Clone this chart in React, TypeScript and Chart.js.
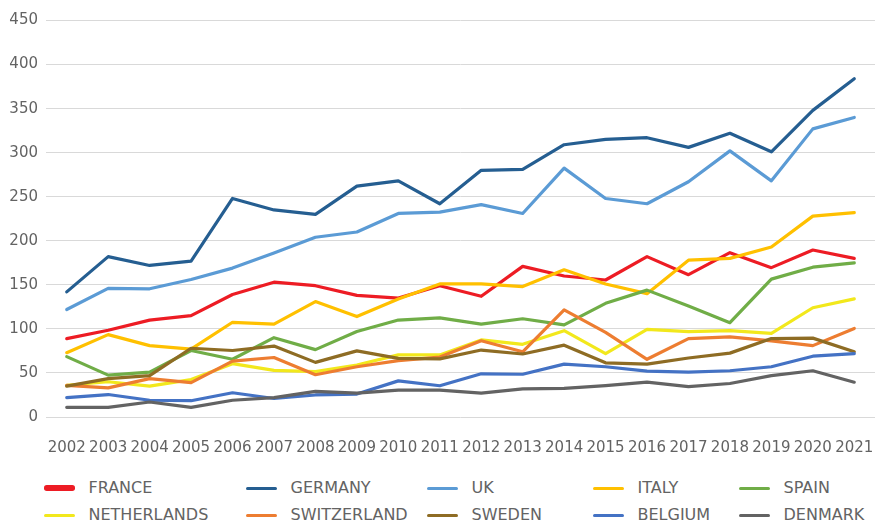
import React, { useEffect, useRef } from "react";
import { Chart, registerables } from "chart.js";

Chart.register(...registerables);

const years = ["2002","2003","2004","2005","2006","2007","2008","2009","2010","2011","2012","2013","2014","2015","2016","2017","2018","2019","2020","2021"];

const france = [89, 98.5, 110, 115, 139, 153, 149, 138, 135, 149, 137, 171, 160, 155.5, 182, 161.5, 186.5, 169.5, 189.5, 180];
const germany = [142, 182, 172, 177, 248, 235, 230, 262, 268, 242, 280, 281, 309, 315, 317, 306, 322, 301, 348, 384];
const uk = [122, 146, 145.5, 156, 169, 186, 204, 210, 231, 232.5, 241, 231, 282.5, 248, 242, 267, 302, 268, 327, 340];
const italy = [73, 93.5, 81, 77, 107.5, 105.5, 131, 114, 134, 151, 151, 148, 167, 151, 140, 178, 180, 193, 228, 232];
const spain = [68.5, 47.5, 51, 75.5, 65.5, 90, 76.5, 97, 110, 112.5, 105.5, 111.5, 104.5, 129, 144, 126, 107, 156.5, 170, 175];
const netherlands = [36, 40, 35, 42.5, 60.5, 53, 51.5, 59, 70.5, 70.5, 87.5, 82.5, 98, 72, 99.5, 97, 98, 95, 124, 134];
const switzerland = [36, 33, 43.5, 39, 63.5, 67.5, 48, 57, 64, 68, 86.5, 74, 121.5, 96, 65.5, 89, 91, 86.5, 81, 100.5];
const sweden = [35, 43.5, 47, 78, 75.5, 80.5, 62, 75, 66.5, 66, 76, 71.5, 81.5, 61.5, 60, 67, 72.5, 89, 89.5, 74];
const belgium = [22, 25.5, 19, 18.5, 27.5, 21, 25, 26, 41, 35.5, 49, 48.5, 60, 57, 52, 51, 52.5, 57, 69, 72];
const denmark = [11, 11, 17, 11, 19, 22, 29, 27, 30.5, 30.5, 27, 32, 32.5, 35.5, 39.5, 34.5, 38, 47, 52.5, 39.5];

const seriesNames = ["FRANCE","GERMANY","UK","ITALY","SPAIN","NETHERLANDS","SWITZERLAND","SWEDEN","BELGIUM","DENMARK"];
const seriesData = [france, germany, uk, italy, spain, netherlands, switzerland, sweden, belgium, denmark];
const seriesColors = ["#ED1C24","#255E91","#5B9BD5","#FFC000","#70AD47","#F2E81C","#ED7D31","#8E6C24","#4472C4","#636363"];

const legendCols = [44, 246, 427, 593, 739];
const legendRows = [488, 515];

const TEXT = "#636363";
const FONT = "'DejaVu Sans', sans-serif";

export default function App() {
  const ref = useRef<HTMLCanvasElement | null>(null);
  useEffect(() => {
    if (!ref.current) return;
    const chart = new Chart(ref.current, {
      type: "line",
      data: {
        labels: years,
        datasets: seriesNames.map((n, i) => ({
          label: n,
          data: seriesData[i],
          borderColor: seriesColors[i],
          backgroundColor: seriesColors[i],
          borderWidth: 3.2,
          pointRadius: 0,
          tension: 0,
          borderJoinStyle: "round" as const,
          borderCapStyle: "round" as const,
          order: 10 - i,
        })),
      },
      options: {
        responsive: false,
        animation: false,
        devicePixelRatio: 1,
        layout: { padding: { top: 20.5, right: 0, bottom: 0, left: 0 } },
        plugins: { legend: { display: false }, tooltip: { enabled: false } },
        scales: {
          x: {
            offset: true,
            grid: { display: false, drawTicks: false },
            border: { display: false },
            ticks: { color: TEXT, font: { family: FONT, size: 15 }, padding: 22, maxRotation: 0, autoSkip: false },
            afterFit: (s: any) => { s.height = 43; s.paddingLeft = 0; s.paddingRight = 0; },
          },
          y: {
            min: 0,
            max: 450,
            grid: { color: "#D9D9D9", lineWidth: 1, drawTicks: false },
            border: { display: false },
            ticks: { stepSize: 50, color: TEXT, font: { family: FONT, size: 15 }, padding: 8 },
            afterFit: (s: any) => { s.width = 46; },
          },
        },
      },
    });
    return () => chart.destroy();
  }, []);

  return (
    <div style={{ position: "fixed", left: 0, top: 0, width: 875, height: 524, background: "#fff", overflow: "hidden" }}>
      <canvas ref={ref} width={875} height={460} style={{ position: "absolute", left: 0, top: 0, width: 875, height: 460 }} />
      {seriesNames.map((n, i) => {
        const col = i % 5;
        const row = Math.floor(i / 5);
        const x = legendCols[col];
        const y = legendRows[row];
        const thick = i === 0 ? 5.5 : 3;
        return (
          <React.Fragment key={n}>
            <div style={{ position: "absolute", left: x, top: y - thick / 2, width: 31, height: thick, background: seriesColors[i], borderRadius: thick / 2 }} />
            <div style={{ position: "absolute", left: x + 44.5, top: y - 10, height: 20, lineHeight: "20px", fontFamily: FONT, fontSize: 16, color: TEXT, whiteSpace: "nowrap" }}>{n}</div>
          </React.Fragment>
        );
      })}
    </div>
  );
}
